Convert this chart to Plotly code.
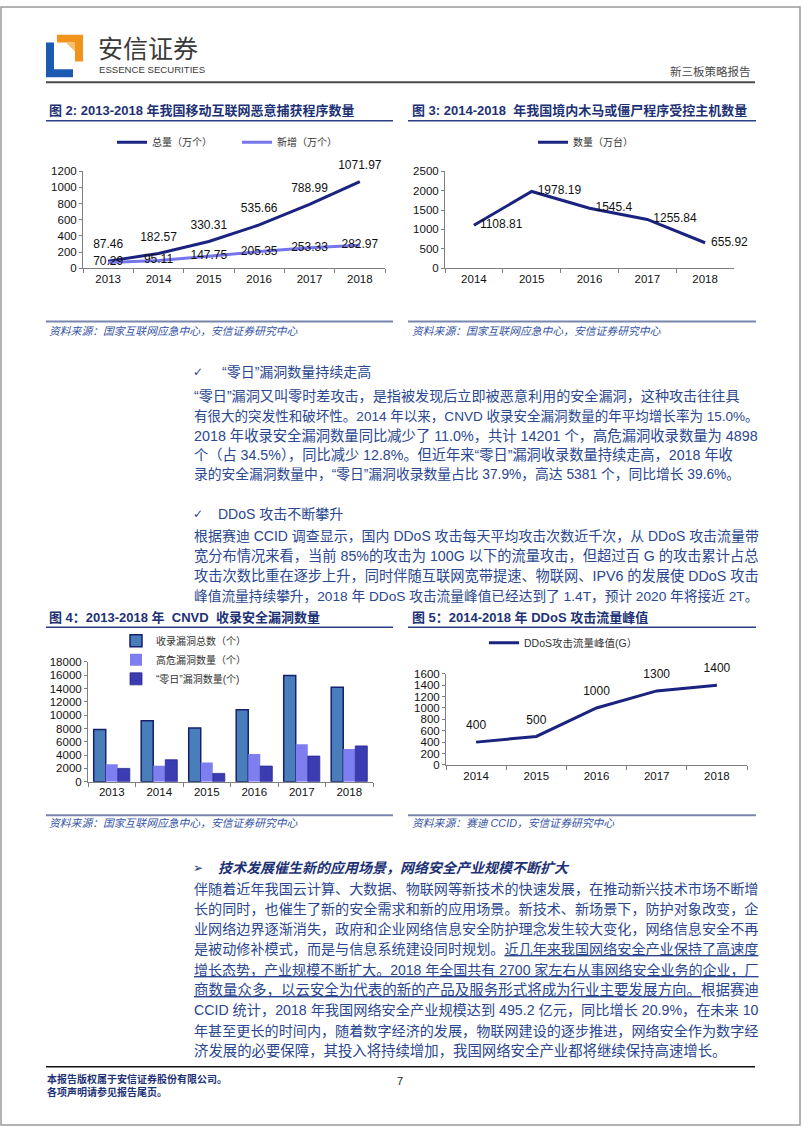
import plotly.graph_objects as go

W, H = 802, 1133


def px(x):
    return x / W


def py(y):
    return 1 - y / H


# ---------------- data ----------------
years_a = ["2013", "2014", "2015", "2016", "2017", "2018"]
malware_total = [87.46, 182.57, 330.31, 535.66, 788.99, 1071.97]
malware_new = [70.29, 95.11, 147.75, 205.35, 253.33, 282.97]

years_b = ["2014", "2015", "2016", "2017", "2018"]
trojan_hosts = [1108.81, 1978.19, 1545.4, 1255.84, 655.92]

cnvd_total = [7854, 9163, 8080, 10822, 15955, 14201]
cnvd_high = [2607, 2394, 2870, 4146, 5615, 4898]
cnvd_zero = [2000, 3300, 1250, 2350, 3854, 5381]

ddos_peak = [400, 500, 1000, 1300, 1400]

# ---------------- styles ----------------
NUM = "Liberation Sans, Arial, Noto Sans CJK SC"
CJK = "Liberation Sans, Noto Sans CJK SC"
BODY = "#2A4790"
TITLE = "#1D3275"
NAVY = "#1B2380"
LIGHT = "#7676EC"
AX = "#808080"

fig = go.Figure()

# chart 1
fig.add_trace(go.Scatter(x=years_a, y=malware_total, mode="lines", name="总量（万个）",
                         line=dict(color=NAVY, width=3), legend="legend", xaxis="x", yaxis="y"))
fig.add_trace(go.Scatter(x=years_a, y=malware_new, mode="lines", name="新增（万个）",
                         line=dict(color=LIGHT, width=3), legend="legend", xaxis="x", yaxis="y"))
fig.add_trace(go.Scatter(x=years_a, y=malware_total, mode="markers+text", showlegend=False,
                         marker=dict(size=14, color="rgba(0,0,0,0)"), cliponaxis=False,
                         text=[f"{v:g}" for v in malware_total], textposition="top center",
                         textfont=dict(family=NUM, size=12, color="#111"), xaxis="x", yaxis="y",
                         hoverinfo="skip"))
fig.add_trace(go.Scatter(x=years_a, y=malware_new, mode="text", showlegend=False,
                         cliponaxis=False,
                         text=[f"{v:g}" for v in malware_new], textposition="middle center",
                         textfont=dict(family=NUM, size=12, color="#111"), xaxis="x", yaxis="y",
                         hoverinfo="skip"))

# chart 2
fig.add_trace(go.Scatter(x=years_b, y=trojan_hosts, mode="lines", name="数量（万台）",
                         line=dict(color=NAVY, width=3), legend="legend2", xaxis="x2", yaxis="y2"))
fig.add_trace(go.Scatter(x=years_b, y=trojan_hosts, mode="markers+text", showlegend=False,
                         marker=dict(size=8, color="rgba(0,0,0,0)"), cliponaxis=False,
                         text=[f"{v:g}" for v in trojan_hosts], textposition="middle right",
                         textfont=dict(family=NUM, size=12, color="#111"), xaxis="x2", yaxis="y2",
                         hoverinfo="skip"))

# chart 4 (bars)
fig.add_trace(go.Bar(x=years_a, y=cnvd_total, name="收录漏洞总数（个）",
                     marker=dict(color="#4A7EBB", line=dict(color="#16206E", width=1.5)),
                     legend="legend3", xaxis="x3", yaxis="y3"))
fig.add_trace(go.Bar(x=years_a, y=cnvd_high, name="高危漏洞数量（个）",
                     marker=dict(color="#7E7EF0", line=dict(color="#7E7EF0", width=0)),
                     legend="legend3", xaxis="x3", yaxis="y3"))
fig.add_trace(go.Bar(x=years_a, y=cnvd_zero, name="“零日”漏洞数量(个)",
                     marker=dict(color="#3B3BB2", line=dict(color="#2A2A90", width=0.8)),
                     legend="legend3", xaxis="x3", yaxis="y3"))

# chart 5
fig.add_trace(go.Scatter(x=years_b, y=ddos_peak, mode="lines", name="DDoS攻击流量峰值(G）",
                         line=dict(color=NAVY, width=3), legend="legend4", xaxis="x4", yaxis="y4"))
fig.add_trace(go.Scatter(x=years_b, y=ddos_peak, mode="markers+text", showlegend=False,
                         marker=dict(size=14, color="rgba(0,0,0,0)"), cliponaxis=False,
                         text=[f"{v:g}" for v in ddos_peak], textposition="top center",
                         textfont=dict(family=NUM, size=12, color="#111"), xaxis="x4", yaxis="y4",
                         hoverinfo="skip"))


def xax(x0, x1, n):
    return dict(domain=[px(x0), px(x1)], type="category", range=[-0.5, n - 0.5],
                showline=True, linecolor=AX, linewidth=1, ticks="outside", ticklen=4,
                tickcolor=AX, tickson="boundaries", showgrid=False, zeroline=False,
                tickfont=dict(family=NUM, size=11.5, color="#111"), fixedrange=True)


def yax(y_top, y_bot, top, dt, anchor):
    return dict(domain=[py(y_bot), py(y_top)], range=[0, top], dtick=dt, anchor=anchor,
                showline=True, linecolor=AX, linewidth=1, ticks="outside", ticklen=3,
                tickcolor=AX, showgrid=False, zeroline=False, tickformat="d",
                tickfont=dict(family=NUM, size=11.5, color="#111"), fixedrange=True)


fig.update_layout(
    width=W, height=H, margin=dict(l=0, r=0, t=0, b=0),
    paper_bgcolor="white", plot_bgcolor="rgba(0,0,0,0)",
    barmode="group", bargap=0.24, bargroupgap=0,
    xaxis=dict(xax(83, 385, 6), anchor="y"),
    yaxis=yax(167, 265, 1200, 200, "x"),
    xaxis2=dict(xax(445, 734, 5), anchor="y2"),
    yaxis2=yax(167, 265, 2500, 500, "x2"),
    xaxis3=dict(xax(88, 373, 6), anchor="y3"),
    yaxis3=yax(663, 784, 18000, 2000, "x3"),
    xaxis4=dict(xax(446, 747, 5), anchor="y4"),
    yaxis4=yax(675, 767, 1600, 200, "x4"),
    legend=dict(x=px(112), y=py(123), xanchor="left", yanchor="top", orientation="h",
                entrywidth=80, font=dict(family=CJK, size=10, color="#333"),
                bgcolor="rgba(0,0,0,0)"),
    legend2=dict(x=px(533), y=py(123), xanchor="left", yanchor="top", orientation="h",
                 font=dict(family=CJK, size=10, color="#333"), bgcolor="rgba(0,0,0,0)"),
    legend3=dict(x=px(116), y=py(627), xanchor="left", yanchor="top", orientation="v",
                 font=dict(family=CJK, size=10, color="#333"), bgcolor="rgba(0,0,0,0)",
                 itemwidth=30),
    legend4=dict(x=px(484), y=py(629), xanchor="left", yanchor="top", orientation="h",
                 font=dict(family=CJK, size=10.5, color="#333"), bgcolor="rgba(0,0,0,0)"),
    showlegend=True,
)

shapes = []
annotations = []


def hline(x0, x1, y, color, width):
    shapes.append(dict(type="line", xref="paper", yref="paper", x0=px(x0), x1=px(x1),
                       y0=py(y), y1=py(y), line=dict(color=color, width=width)))


def text(x, y, s, size, color, family=CJK, anchor="left", bold=False, italic=False):
    if bold:
        s = "<b>" + s + "</b>"
    if italic:
        s = "<i>" + s + "</i>"
    annotations.append(dict(xref="paper", yref="paper", x=px(x), y=py(y), text=s,
                            showarrow=False, xanchor=anchor, yanchor="middle",
                            font=dict(family=family, size=size, color=color)))


def poly(pts, color):
    path = "M " + " L ".join(f"{px(a):.5f},{py(b):.5f}" for a, b in pts) + " Z"
    shapes.append(dict(type="path", xref="paper", yref="paper", path=path,
                       fillcolor=color, line=dict(width=0)))


ARIAL_W = {" ": 0.278, ".": 0.278, "%": 0.889, "(": 0.333, ")": 0.333, "C": 0.722,
           "N": 0.722, "V": 0.667, "D": 0.722, "o": 0.556, "S": 0.667, "I": 0.278,
           "P": 0.667, "G": 0.778, "T": 0.611}


def em_width(s):
    s = s.replace("<u>", "").replace("</u>", "")
    w = 0.0
    for ch in s:
        if ch.isdigit():
            w += 0.556
        elif ord(ch) < 128:
            w += ARIAL_W.get(ch, 0.6)
        else:
            w += 1.0
    return w


LINE_W = 757 - 192


def para(lines, y0, step, last_full):
    for i, s in enumerate(lines):
        full = (i < len(lines) - 1) or last_full
        size = LINE_W / em_width(s) if full else 14.4
        text(192, y0 + i * step, s, round(size, 2), BODY)


# page border
shapes.append(dict(type="rect", xref="paper", yref="paper", x0=px(1), x1=px(800),
                   y0=py(1131), y1=py(1), line=dict(color="#9a9a9a", width=1.5)))

# logo
poly([(46, 37), (54, 37), (54, 64), (73, 64), (73, 72), (46, 72)], "#1C59B0")
poly([(57, 29), (83, 29), (83, 56), (75, 56), (75, 37), (57, 37)], "#F2941C")
poly([(66, 37), (75, 37), (75, 46)], "#F8BE6A")
text(96, 41, "安信证券", 25, "#3A3A3A", family="Noto Sans CJK SC")
text(97, 64.5, "ESSENCE SECURITIES", 9.6, "#3A3A3A",
     family="Liberation Sans Narrow, Arial Narrow, Liberation Sans")
text(753, 66, "新三板策略报告", 11.5, "#4a4a4a", family="Noto Sans CJK SC", anchor="right")
hline(46, 755, 77, "#4a4a4a", 2)

# figure titles
TS = 13
text(47, 106, "图 2: 2013-2018 年我国移动互联网恶意捕获程序数量", TS, TITLE, bold=True)
text(410, 106, "图 3: 2014-2018  年我国境内木马或僵尸程序受控主机数量", TS, TITLE, bold=True)
hline(46, 393, 116, "#2A3F86", 1.5)
hline(408, 756, 116, "#2A3F86", 1.5)
text(47, 618, "图 4：2013-2018 年  CNVD  收录安全漏洞数量", TS, TITLE, bold=True)
text(410, 618, "图 5：2014-2018 年 DDoS 攻击流量峰值", TS, TITLE, bold=True)
hline(46, 393, 628, "#2A3F86", 1.5)
hline(408, 756, 628, "#2A3F86", 1.5)

# sources
SRC = "#3553A3"
hline(46, 393, 319, "#7886AE", 2)
hline(408, 756, 319, "#7886AE", 2)
text(47, 328, "资料来源：国家互联网应急中心，安信证券研究中心", 10.8, SRC, italic=True)
text(410, 328, "资料来源：国家互联网应急中心，安信证券研究中心", 10.8, SRC, italic=True)
hline(46, 393, 818, "#7886AE", 2)
hline(408, 756, 818, "#7886AE", 2)
text(47, 826, "资料来源：国家互联网应急中心，安信证券研究中心", 10.8, SRC, italic=True)
text(410, 826, "资料来源：赛迪 CCID，安信证券研究中心", 10.8, SRC, italic=True)

# body section 1
text(191, 370, "✓", 12, BODY, family="DejaVu Sans")
text(220, 370, "“零日”漏洞数量持续走高", 14, BODY)
sec1 = [
    "“零日”漏洞又叫零时差攻击，是指被发现后立即被恶意利用的安全漏洞，这种攻击往往具",
    "有很大的突发性和破坏性。2014 年以来，CNVD 收录安全漏洞数量的年平均增长率为 15.0%。",
    "2018 年收录安全漏洞数量同比减少了 11.0%，共计 14201 个，高危漏洞收录数量为 4898",
    "个（占 34.5%），同比减少 12.8%。但近年来“零日”漏洞收录数量持续走高，2018 年收",
    "录的安全漏洞数量中，“零日”漏洞收录数量占比 37.9%，高达 5381 个，同比增长 39.6%。",
]
para(sec1, 394.5, 19.7, True)

text(191, 513, "✓", 12, BODY, family="DejaVu Sans")
text(216, 513, "DDoS 攻击不断攀升", 14, BODY)
sec2 = [
    "根据赛迪 CCID 调查显示，国内 DDoS 攻击每天平均攻击次数近千次，从 DDoS 攻击流量带",
    "宽分布情况来看，当前 85%的攻击为 100G 以下的流量攻击，但超过百 G 的攻击累计占总",
    "攻击次数比重在逐步上升，同时伴随互联网宽带提速、物联网、IPV6 的发展使 DDoS 攻击",
    "峰值流量持续攀升，2018 年 DDoS 攻击流量峰值已经达到了 1.4T，预计 2020 年将接近 2T。",
]
para(sec2, 536, 20, True)

# body section 3
text(191, 871, "➢", 12, TITLE, family="DejaVu Sans")
text(216, 871, "技术发展催生新的应用场景，网络安全产业规模不断扩大", 14, TITLE, bold=True, italic=True)
sec3 = [
    "伴随着近年我国云计算、大数据、物联网等新技术的快速发展，在推动新兴技术市场不断增",
    "长的同时，也催生了新的安全需求和新的应用场景。新技术、新场景下，防护对象改变，企",
    "业网络边界逐渐消失，政府和企业网络信息安全防护理念发生较大变化，网络信息安全不再",
    "是被动修补模式，而是与信息系统建设同时规划。<u>近几年来我国网络安全产业保持了高速度</u>",
    "<u>增长态势，产业规模不断扩大。2018 年全国共有 2700 家左右从事网络安全业务的企业，厂</u>",
    "<u>商数量众多，以云安全为代表的新的产品及服务形式将成为行业主要发展方向。</u>根据赛迪",
    "CCID 统计，2018 年我国网络安全产业规模达到 495.2 亿元，同比增长 20.9%，在未来 10",
    "年甚至更长的时间内，随着数字经济的发展，物联网建设的逐步推进，网络安全作为数字经",
    "济发展的必要保障，其投入将持续增加，我国网络安全产业都将继续保持高速增长。",
]
para(sec3, 892, 20.5, False)

# footer
hline(46, 755, 1072, "#111111", 1.5)
text(45, 1084, "本报告版权属于安信证券股份有限公司。", 10, TITLE, bold=True)
text(45, 1098, "各项声明请参见报告尾页。", 10, TITLE, bold=True)
text(400, 1087, "7", 11, "#222", family=NUM, anchor="center")

fig.update_layout(shapes=shapes, annotations=annotations)
fig.write_html("out.html", config={"displayModeBar": False},
               post_script="document.body.style.margin='0';document.body.style.overflow='hidden';")
